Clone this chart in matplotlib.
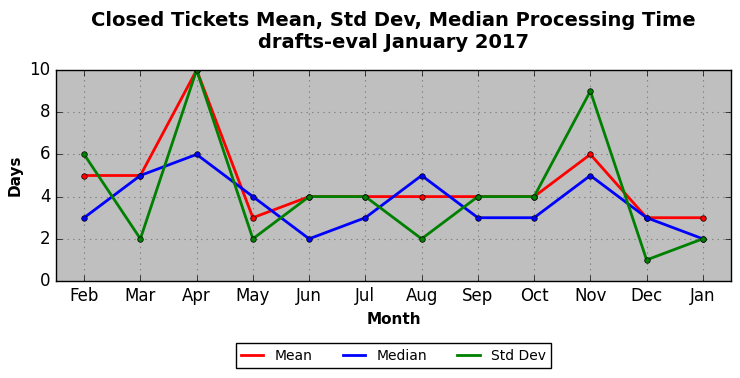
import matplotlib
matplotlib.use('Agg')
import matplotlib.pyplot as plt

plt.style.use('classic')

months = ['Feb', 'Mar', 'Apr', 'May', 'Jun', 'Jul', 'Aug', 'Sep', 'Oct', 'Nov', 'Dec', 'Jan']
mean_days = [5, 5, 10, 3, 4, 4, 4, 4, 4, 6, 3, 3]
median_days = [3, 5, 6, 4, 2, 3, 5, 3, 3, 5, 3, 2]
std_days = [6, 2, 10, 2, 4, 4, 2, 4, 4, 9, 1, 2]

fig = plt.figure(figsize=(7.4, 3.78), dpi=100, facecolor='white')
ax = fig.add_axes([0.0757, 0.2566, 0.9121, 0.5582])
ax.set_facecolor('#bfbfbf')

x = range(len(months))
ax.plot(x, mean_days, color='red', lw=2, marker='o', ms=4, label='Mean')
ax.plot(x, median_days, color='blue', lw=2, marker='o', ms=4, label='Median')
ax.plot(x, std_days, color='green', lw=2, marker='o', ms=4, label='Std Dev')

ax.set_xlim(-0.5, len(months) - 0.5)
ax.set_ylim(0, 10)
ax.set_xticks(list(x))
ax.set_xticklabels(months, fontsize=12)
ax.tick_params(axis='y', labelsize=12)
ax.grid(True, color='gray', linestyle=':', linewidth=0.8)
ax.set_axisbelow(True)

ax.set_xlabel('Month', fontsize=11, fontweight='bold')
ax.set_ylabel('Days', fontsize=11, fontweight='bold')
# title centred over the axes, not the figure
ax.set_title('Closed Tickets Mean, Std Dev, Median Processing Time\ndrafts-eval January 2017',
             fontsize=14, fontweight='bold', pad=16)

ax.legend(loc='upper center', bbox_to_anchor=(0.5, -0.262), ncol=3, fontsize=10,
          frameon=True, fancybox=False, numpoints=1, markerscale=0,
          handlelength=1.6, columnspacing=2.2)

fig.savefig('out.png', dpi=100, facecolor='white')
